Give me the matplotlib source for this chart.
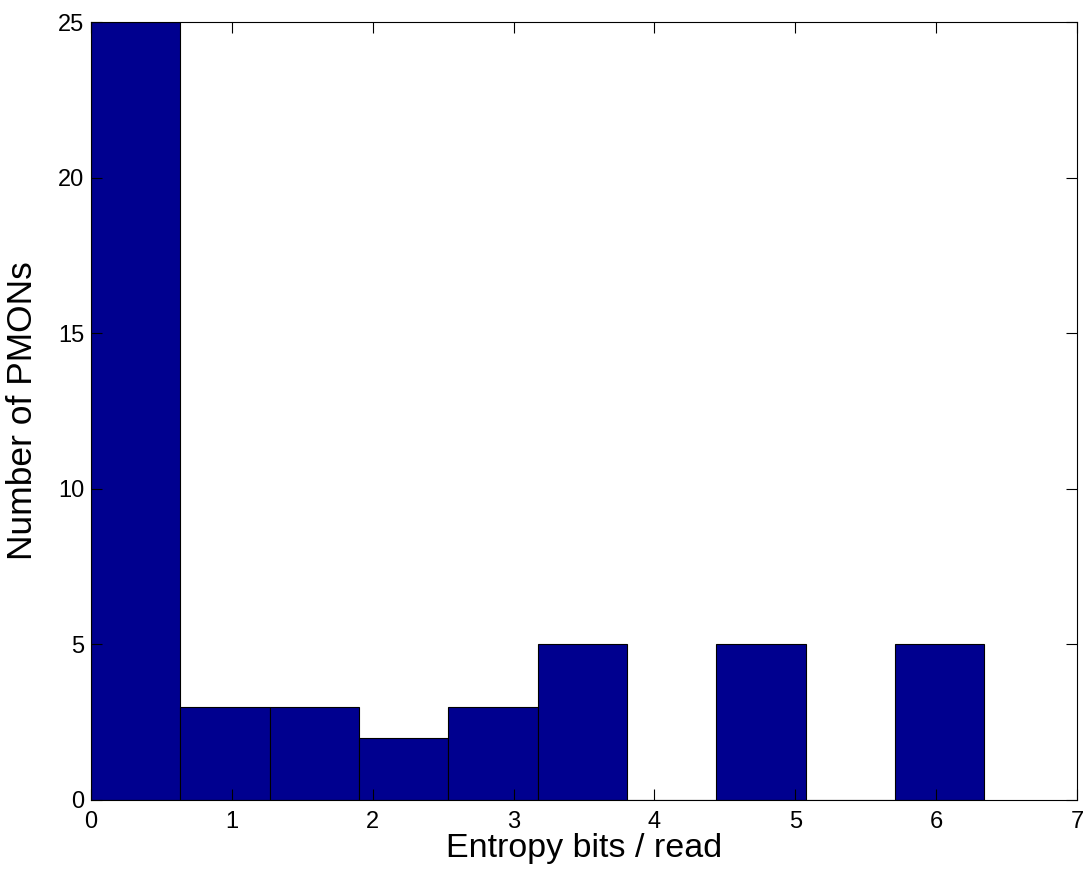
import numpy as np
import matplotlib
matplotlib.use('Agg')
import matplotlib.pyplot as plt

# histogram of entropy per read (10 bins)
bin_edges = [0.0, 0.634, 1.268, 1.902, 2.536, 3.17, 3.804, 4.438, 5.072, 5.706, 6.34]
counts = [25, 3, 3, 2, 3, 5, 0, 5, 0, 5]

plt.rcParams['font.family'] = ['Liberation Sans', 'DejaVu Sans']

fig = plt.figure(figsize=(10.88, 8.82), dpi=100)
ax = fig.add_axes([0.0836, 0.093, 0.9064, 0.882])

left = np.array(bin_edges[:-1])
width = np.diff(bin_edges)
ax.bar(left, counts, width=width, align='edge', color=(0, 0, 0.5625),
       edgecolor='black', linewidth=0.8)

ax.set_xlim(0, 7)
ax.set_ylim(0, 25)
ax.set_xticks(range(0, 8))
ax.set_yticks(range(0, 26, 5))
ax.tick_params(direction='in', top=True, right=True, labelsize=17, length=8,
               width=0.8)
ax.tick_params(axis='x', pad=8)
ax.tick_params(axis='y', pad=5)
for s in ax.spines.values():
    s.set_linewidth(0.8)

ax.set_xlabel('Entropy bits / read', fontsize=24.5)
ax.set_ylabel('Number of PMONs', fontsize=25.5)
ax.xaxis.set_label_coords(0.5, -0.043)
ax.yaxis.set_label_coords(-0.053, 0.5)

fig.savefig('out.png', dpi=100)
